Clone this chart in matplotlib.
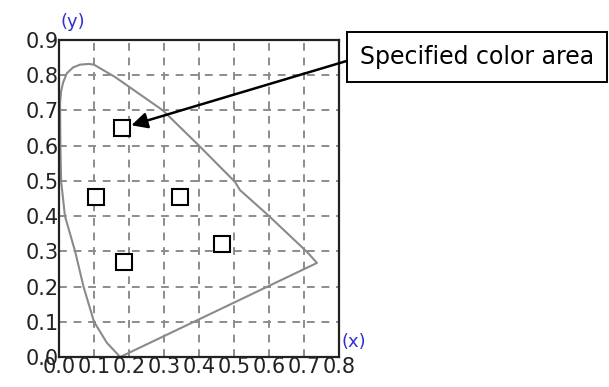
import matplotlib
matplotlib.use('Agg')
import matplotlib.pyplot as plt
import numpy as np

# spectral locus outline
locus_x = [0.175, 0.137, 0.10, 0.07, 0.046, 0.017, 0.006, 0.004, 0.003, 0.006, 0.012, 0.022, 0.04, 0.06, 0.085, 0.10, 0.117, 0.16,
           0.297, 0.40, 0.503, 0.517, 0.597, 0.709, 0.737, 0.175]
locus_y = [0.0, 0.04, 0.1, 0.2, 0.3, 0.4, 0.5, 0.6, 0.72, 0.755, 0.78, 0.805, 0.822, 0.83, 0.832, 0.83, 0.82, 0.795,
           0.70, 0.60, 0.497, 0.474, 0.403, 0.298, 0.267, 0.0]

# specified colour points
sq_x = [0.18, 0.105, 0.345, 0.185, 0.465]
sq_y = [0.65, 0.455, 0.455, 0.27, 0.32]

xticks = [0.0, 0.1, 0.2, 0.3, 0.4, 0.5, 0.6, 0.7, 0.8]
yticks = [0.0, 0.1, 0.2, 0.3, 0.4, 0.5, 0.6, 0.7, 0.8, 0.9]

fig = plt.figure(figsize=(6.09, 3.87), dpi=100)
ax = fig.add_axes([59/609, 1-357/387, 280/609, 317/387])

ax.plot(locus_x, locus_y, color='#8a8a8a', lw=1.5, clip_on=False, zorder=2)
ax.plot(sq_x, sq_y, 's', ms=11.5, mfc='white', mec='black', mew=1.5, zorder=3)

ax.set_xlim(0, 0.8)
ax.set_ylim(0, 0.9)
ax.set_xticks(xticks)
ax.set_yticks(yticks)
ax.set_xticklabels(['%.1f' % v for v in xticks])
ax.set_yticklabels(['%.1f' % v for v in yticks])
ax.tick_params(length=0, pad=0, labelsize=15, labelcolor='#222222')
ax.grid(True, color='#8c8c8c', lw=1.4, dashes=(4, 3.5))
for s in ax.spines.values():
    s.set_linewidth(1.6)
    s.set_color('#222222')

fig.text(73/609, 1-22/387, '(y)', color='#3030d0', fontsize=13, ha='center', va='center')
fig.text(354/609, 1-342/387, '(x)', color='#3030d0', fontsize=13, ha='center', va='center')

ax.annotate('Specified color area', xy=(sq_x[0], sq_y[0]), xycoords='data',
            xytext=(477/609, 1-57/387), textcoords='figure fraction',
            ha='center', va='center', fontsize=17,
            bbox=dict(boxstyle='square,pad=0.55', fc='white', ec='black', lw=1.4),
            arrowprops=dict(arrowstyle='-|>', color='black', lw=1.8, mutation_scale=24,
                            relpos=(0, 0.5), shrinkA=0, shrinkB=7),
            annotation_clip=False)

fig.savefig('out.png', dpi=100)
